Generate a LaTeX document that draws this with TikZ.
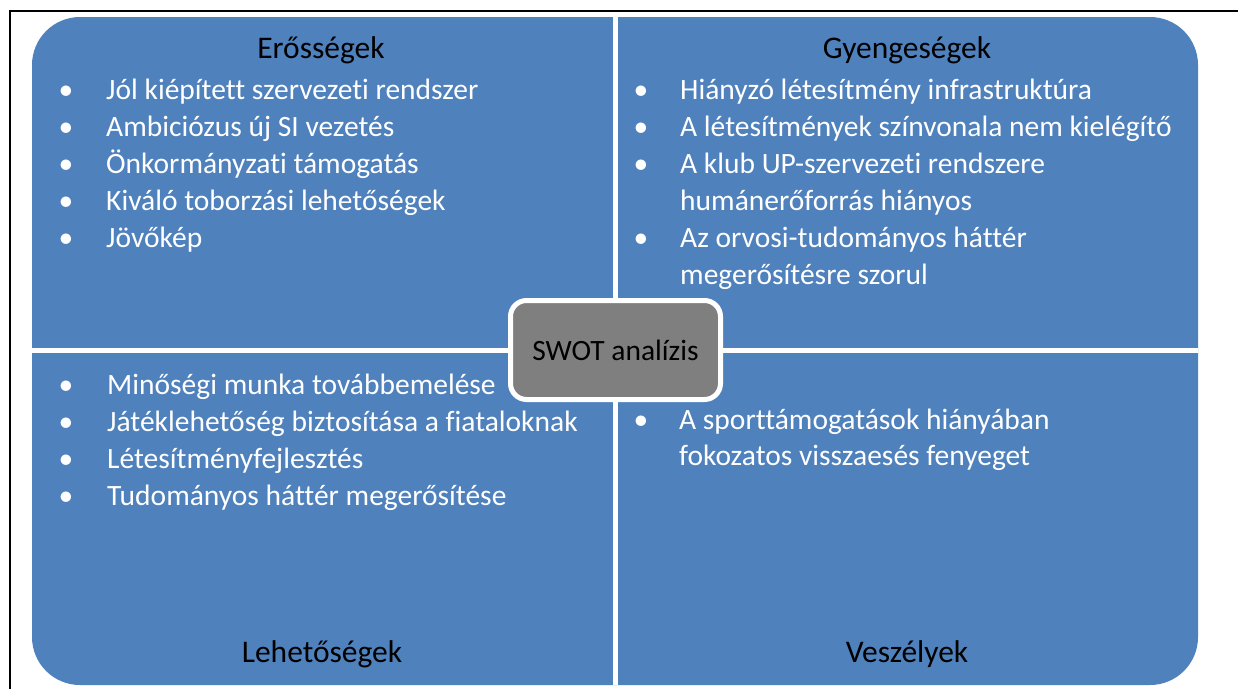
\documentclass[tikz,border=0pt]{standalone}
\usepackage{fontspec}
\setmainfont[Ligatures={NoCommon}]{Carlito}
\definecolor{quadblue}{HTML}{4F81BD}
\definecolor{centergray}{HTML}{7F7F7F}
\tikzset{
  quad/.style={fill=quadblue},
  ttl/.style={anchor=base, text=black, inner sep=0pt, font=\fontsize{31.5}{37}\selectfont},
  ctr/.style={anchor=base, text=black, inner sep=0pt, font=\fontsize{29.5}{35}\selectfont},
  itm/.style={anchor=base west, text=white, inner sep=0pt, font=\fontsize{29.5}{35}\selectfont},
  bul/.style={anchor=base, text=white, inner sep=0pt, font=\fontsize{29.5}{35}\selectfont},
  centerbox/.style={draw=white, line width=5pt, fill=centergray, rounded corners=16pt},
  frameline/.style={draw=black, line width=2pt}
}
\begin{document}
\begin{tikzpicture}[x=1pt,y=-1pt]
\useasboundingbox (0,0) rectangle (1238,689);
\draw[frameline] (10,689) -- (10,11) -- (1238,11);
% quadrants
\fill[quad, rounded corners=48pt] (32,17) rectangle (1198,685);
\fill[white] (613,17) rectangle (618,685);
\fill[white] (32,348) rectangle (1198,353);
% titles
\node[ttl] (s-title) at (321,58) {Erősségek};
\node[ttl] (w-title) at (907,58) {Gyengeségek};
\node[ttl] (o-title) at (322,662) {Lehetőségek};
\node[ttl] (t-title) at (907,662) {Veszélyek};
% strengths
\foreach \y in {99,136,173,210,247} \node[bul] at (66,\y) {•};
\node[itm] (s1) at (106,99) {Jól kiépített szervezeti rendszer};
\node[itm] (s2) at (106,136) {Ambiciózus új SI vezetés};
\node[itm] (s3) at (106,173) {Önkormányzati támogatás};
\node[itm] (s4) at (106,210) {Kiváló toborzási lehetőségek};
\node[itm] (s5) at (106,247) {Jövőkép};
% weaknesses
\foreach \y in {99,136,173,247} \node[bul] at (641,\y) {•};
\node[itm] (w1) at (680,99) {Hiányzó létesítmény infrastruktúra};
\node[itm] (w2) at (680,136) {A létesítmények színvonala nem kielégítő};
\node[itm] (w3) at (680,173) {A klub UP-szervezeti rendszere};
\node[itm] (w3b) at (680,210) {humánerőforrás hiányos};
\node[itm] (w4) at (680,247) {Az orvosi-tudományos háttér};
\node[itm] (w4b) at (680,284) {megerősítésre szorul};
% opportunities
\foreach \y in {394,431,468,505} \node[bul] at (66,\y) {•};
\node[itm] (o1) at (107,394) {Minőségi munka továbbemelése};
\node[itm] (o2) at (107,431) {Játéklehetőség biztosítása a fiataloknak};
\node[itm] (o3) at (107,468) {Létesítményfejlesztés};
\node[itm] (o4) at (107,505) {Tudományos háttér megerősítése};
% threats
\node[bul] at (641,429) {•};
\node[itm] (t1) at (679,429) {A sporttámogatások hiányában};
\node[itm] (t1b) at (679,465) {fokozatos visszaesés fenyeget};
% center
\draw[centerbox] (510.5,300.5) rectangle (720.5,399.5);
\node[ctr] (swot) at (615.5,360) {SWOT analízis};
\end{tikzpicture}
\end{document}
